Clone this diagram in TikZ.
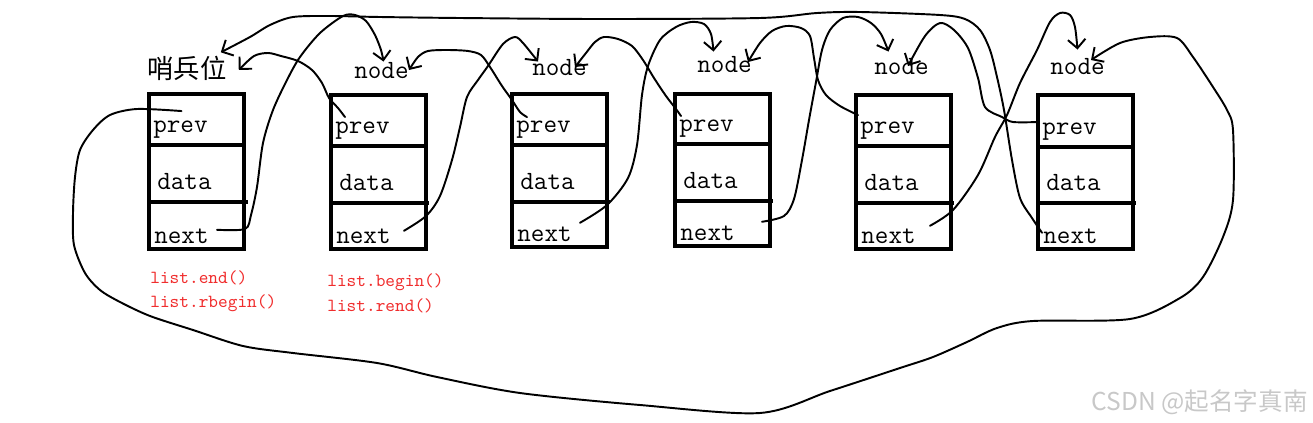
\documentclass[tikz,border=0pt]{standalone}
\usepackage{fontspec}
\newfontfamily\cjk{Noto Sans CJK SC}
\usetikzlibrary{arrows.meta}
\definecolor{itred}{RGB}{240,45,45}
\definecolor{markgray}{RGB}{200,200,200}

\begin{document}
\begin{tikzpicture}[x=0.02cm, y=-0.02cm,
  box/.style={line width=2pt},
  thickbox/.style={line width=2.8pt},
  cell/.style={inner sep=0pt, anchor=base west, font=\fontsize{15}{18}\selectfont\ttfamily},
  iter/.style={inner sep=0pt, anchor=base west, text=itred, font=\fontsize{10.5}{12}\selectfont\ttfamily},
  link/.style={line width=1.1pt, line cap=round, line join=round, -{Straight Barb[length=5pt,width=10pt]}}]
\useasboundingbox (0,0) rectangle (1313,423);
\foreach \x/\ytop/\ya/\yb/\ybot [count=\i] in {149/94/145/202/249, 331/95/146/203/249, 512/94/145/202/247, 675/94/144/201/246, 856/95/146/203/249, 1038/95/147/203/249} {
  \draw[box] (\x,\ytop) rectangle (\x+95,\ybot);
  \draw[box] (\x,\ya) -- (\x+95,\ya);
  \draw[box] (\x,\yb) -- (\x+98,\yb);
  \node[cell] (prev\i) at (\x+4,\ya-13) {prev};
  \node[cell] (data\i) at (\x+8,\yb-13) {data};
  \node[cell] (next\i) at (\x+5,\ybot-6) {next};
}
\draw[thickbox] (149,94) -- (244,94) (149,145) -- (244,145) (149,202) -- (248,202);
\draw[thickbox] (1038,95) -- (1133,95) (1038,203) -- (1136,203) (1038,249) -- (1133,249) (770,94) -- (770,246);
\node[inner sep=0pt, anchor=base west, font=\cjk\fontsize{15}{18}\selectfont] (lbl1) at (147,78) {哨兵位};
\foreach \x/\y [count=\i from 2] in {354/78, 532/75, 697/72, 874/74, 1050/74}
  \node[cell] (lbl\i) at (\x,\y) {node};
\draw[link] plot[smooth] coordinates {([shift={(8,-6)}]next1.east) (245,229) (251,215) (257,187) (263,143) (273,110) (287,80) (300,57) (320,33) (343,16) (355,15) (366,21) (375,35) (381,50) ([shift={(2,0)}]lbl2.north)};
\draw[link] plot[smooth] coordinates {([shift={(10,-4)}]prev2.north west) (338,108) (329,98) (322,83) (312,70) (298,61) (281,56) (268,53) (254,56) ([shift={(12,2)}]lbl1.east)};
\draw[link] plot[smooth] coordinates {([shift={(13,-5)}]next2.east) (426,216) (440,196) (452,160) (460,127) (467,97) (478,80) (488,66) (503,44) (515,37) (523,43) ([shift={(6,3)}]lbl3.north west)};
\draw[link] plot[smooth] coordinates {([shift={(11,-3)}]prev3.north west) (520,112) (512,100) (502,86) (490,67) (481,55) (468,51) (447,50) (428,51) (418,57) (lbl2.east)};
\draw[link] plot[smooth] coordinates {([shift={(8,-11)}]next3.east) (607,205) (628,178) (637,145) (642,95) (648,66) (660,40) (676,27) (691,22) (704,24) (711,34) ([shift={(-11,-4)}]lbl4.north)};
\draw[link] plot[smooth] coordinates {([shift={(2,-3)}]prev4.north west) (676,109) (666,96) (654,78) (643,60) (632,46) (618,39) (604,37) (595,42) (586,53) ([shift={(-12,0)}]lbl3.east)};
\draw[link] plot[smooth] coordinates {([shift={(27,-11)}]next4.east) (784,216) (794,199) (802,160) (809,120) (816,82) (822,50) (830,30) (843,18) (858,17) (871,23) (881,34) ([shift={(-13,-6)}]lbl5.north)};
\draw[link] plot[smooth] coordinates {([shift={(-2,-6)}]prev5.north west) (840,106) (826,95) (818,80) (814,58) (810,36) (801,28) (786,26) (772,31) (760,43) ([shift={(-4,-2)}]lbl4.east)};
\draw[link] plot[smooth] coordinates {([shift={(14,-10)}]next5.east) (953,210) (978,175) (995,137) (1007,115) (1020,83) (1037,50) (1050,22) (1060,13) (1070,15) (1075,27) ([shift={(0,-8)}]lbl6.north)};
\draw[link] plot[smooth] coordinates {([shift={(-5,0)}]prev6.north west) (1013,122) (1002,117) (985,107) (978,78) (968,48) (954,30) (940,23) (925,36) ([shift={(-21,0)}]lbl5.east)};
\draw[link] plot[smooth] coordinates {([shift={(-1,-3)}]next6.west) (1032,218) (1020,198) (1012,160) (1004,110) (997,77) (990,50) (980,30) (965,19) (940,15) (860,12) (817,13) (760,18) (600,19) (460,18) (380,17) (330,16) (293,17) (270,25) (250,37) ([shift={(-6,-3)}]lbl1.north east)};
\draw[link] plot[smooth] coordinates {([shift={(1,-9)}]prev1.north) (137,109) (110,115) (93,130) (80,150) (75,177) (73,213) (74,245) (85,273) (100,290) (120,302) (150,316) (193,330) (243,346) (293,353) (377,363) (437,377) (520,393) (640,405) (760,413) (830,391) (900,368) (933,357) (967,342) (997,328) (1033,321) (1130,319) (1180,298) (1203,277) (1223,237) (1233,200) (1233,130) (1227,110) (1213,87) (1193,57) (1177,38) (1150,37) (1120,43) ([shift={(-14,-6)}]lbl6.east)};
\node[iter] (itend) at (150,283) {list.end()};
\node[iter] (itrbegin) at (150,307) {list.rbegin()};
\node[iter] (itbegin) at (327,286) {list.begin()};
\node[iter] (itrend) at (327,311) {list.rend()};
\node[inner sep=0pt, anchor=base east, text=markgray, font=\cjk\fontsize{14}{16}\selectfont] (mark) at (1308,410) {CSDN @起名字真南};
\end{tikzpicture}
\end{document}
